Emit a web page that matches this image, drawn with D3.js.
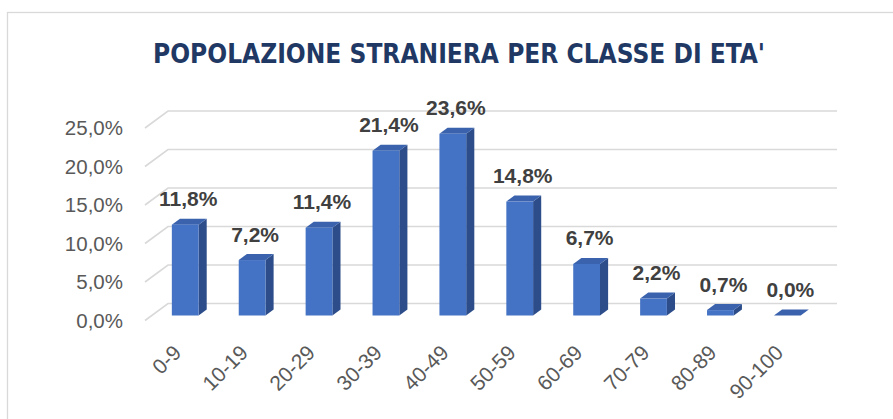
<!DOCTYPE html>
<html>
<head>
<meta charset="utf-8">
<script src="https://cdn.jsdelivr.net/npm/d3@7"></script>
<style>
  body { margin: 0; background: #fff; }
  svg { display: block; font-family: "Liberation Sans", Arial, sans-serif; }
</style>
</head>
<body>
<div id="chart"></div>
<script>
// data
const categories = ["0-9", "10-19", "20-29", "30-39", "40-49", "50-59", "60-69", "70-79", "80-89", "90-100"];
const values = [11.8, 7.2, 11.4, 21.4, 23.6, 14.8, 6.7, 2.2, 0.7, 0.0];
const yTicks = [0, 5, 10, 15, 20, 25];
const chartTitle = "POPOLAZIONE STRANIERA PER CLASSE DI ETA'";

const width = 893, height = 419;

// 3d-ish frame: front plane and depth vector to the back wall
const depth = {dx: 23, dy: -17};
const barFront = 5 / 17;   // bar front face, fraction of depth
const barBack = 11 / 17;   // bar back face

const itLocale = d3.formatLocale({decimal: ",", thousands: ".", grouping: [3], currency: ["", "€"]});
const pct = v => itLocale.format(".1f")(v) + "%";

const svg = d3.select("#chart").append("svg")
    .attr("width", width)
    .attr("height", height);

svg.append("rect")
    .attr("width", width).attr("height", height)
    .attr("fill", "#fff");

// chart border
svg.append("rect")
    .attr("x", 7.5).attr("y", 12.5)
    .attr("width", width + 20).attr("height", height + 20)
    .attr("fill", "none")
    .attr("stroke", "#d9d9d9")
    .attr("stroke-width", 1.3);

// title
svg.append("text")
    .attr("x", 459).attr("y", 63)
    .attr("text-anchor", "middle")
    .attr("textLength", 612)
    .attr("lengthAdjust", "spacingAndGlyphs")
    .style("font-family", "'Liberation Sans Narrow', 'DejaVu Sans Condensed', 'Liberation Sans', sans-serif")
    .style("font-weight", "bold")
    .style("font-size", "27px")
    .attr("fill", "#1f3864")
    .text(chartTitle);

// scales (front plane)
const x = d3.scaleBand()
    .domain(categories)
    .range([145, 814]);

const y = d3.scaleLinear()
    .domain([0, 25])
    .range([320.5, 128]);

// gridlines: diagonal on the left side wall + horizontal on the back wall
const grid = svg.append("g")
    .attr("stroke", "#d9d9d9")
    .attr("stroke-width", 1.6)
    .attr("fill", "none");

grid.selectAll("path.grid")
    .data(yTicks)
    .join("path")
    .attr("class", "grid")
    .attr("d", function(t) {
        const x0 = x.range()[0], y0 = y(t);
        const xb = x0 + depth.dx, yb = y0 + depth.dy;
        const xe = x.range()[1] + depth.dx;
        return "M" + x0 + "," + y0 + "L" + xb + "," + yb + "L" + xe + "," + yb;
    });

// y axis labels
const yAxis = svg.append("g")
    .attr("transform", "translate(145,0)")
    .call(d3.axisLeft(y).tickValues(yTicks).tickSize(0).tickPadding(22).tickFormat(pct));
yAxis.select(".domain").remove();
yAxis.selectAll("text")
    .style("font-family", "'Liberation Sans', Arial, sans-serif")
    .style("font-size", "20.5px")
    .attr("fill", "#595959");

// x axis labels, rotated
const xAxis = svg.append("g")
    .call(d3.axisBottom(x).tickSize(0));
xAxis.select(".domain").remove();
xAxis.selectAll("text")
    .attr("x", 0).attr("y", 0).attr("dy", 0)
    .attr("text-anchor", "end")
    .attr("transform", "translate(4,354) rotate(-45)")
    .style("font-family", "'Liberation Sans', Arial, sans-serif")
    .style("font-size", "21px")
    .attr("fill", "#595959");

// bars
const bw = x.step() * 0.4;
const bars = svg.append("g").selectAll("g.bar")
    .data(values.map((v, i) => ({cat: categories[i], value: v})))
    .join("g")
    .attr("class", "bar");

function geom(d) {
    const cx = x(d.cat) + x.bandwidth() / 2 + depth.dx * barFront;
    const yb = y(0) + depth.dy * barFront;
    const yt = yb - (y(0) - y(d.value));
    const ox = depth.dx * (barBack - barFront), oy = depth.dy * (barBack - barFront);
    return {l: cx - bw / 2, r: cx + bw / 2, yb: yb, yt: yt, ox: ox, oy: oy, cx: cx};
}

// side face
bars.append("path")
    .attr("fill", "#2c4d8a")
    .attr("d", function(d) {
        const g = geom(d);
        return "M" + g.r + "," + g.yt + "L" + (g.r + g.ox) + "," + (g.yt + g.oy) +
            "L" + (g.r + g.ox) + "," + (g.yb + g.oy) + "L" + g.r + "," + g.yb + "Z";
    });

// top face
bars.append("path")
    .attr("fill", "#3a62ad")
    .attr("d", function(d) {
        const g = geom(d);
        return "M" + g.l + "," + g.yt + "L" + (g.l + g.ox) + "," + (g.yt + g.oy) +
            "L" + (g.r + g.ox) + "," + (g.yt + g.oy) + "L" + g.r + "," + g.yt + "Z";
    });

// front face
bars.append("rect")
    .attr("fill", "#4472c4")
    .attr("x", d => geom(d).l)
    .attr("y", d => geom(d).yt)
    .attr("width", bw)
    .attr("height", d => geom(d).yb - geom(d).yt);

// value labels
bars.append("text")
    .attr("x", d => geom(d).cx + 3)
    .attr("y", d => geom(d).yt - 18.5)
    .attr("text-anchor", "middle")
    .style("font-weight", "bold")
    .style("font-size", "21px")
    .attr("fill", "#404040")
    .text(d => pct(d.value));
</script>
</body>
</html>
